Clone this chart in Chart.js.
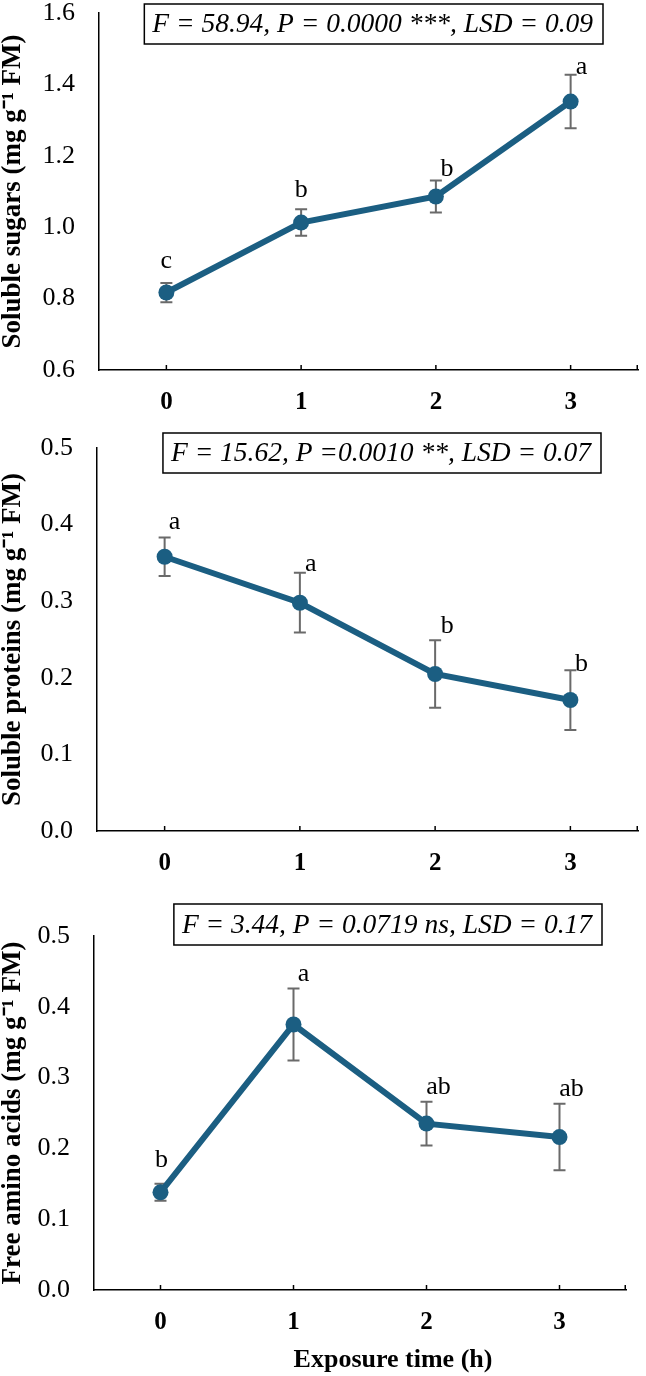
<!DOCTYPE html>
<html>
<head>
<meta charset="utf-8">
<script src="https://cdn.jsdelivr.net/npm/chart.js@4.4.1/dist/chart.umd.min.js"></script>
<style>
  body { margin: 0; background: #fff; }
  canvas { position: absolute; left: 0; }
</style>
</head>
<body>
<canvas id="sugars" width="646" height="430" style="top:0"></canvas>
<canvas id="proteins" width="646" height="450" style="top:430px"></canvas>
<canvas id="amino" width="646" height="496" style="top:880px"></canvas>
<script>
// exposure time categories
const hours = ['0', '1', '2', '3'];

// soluble sugars
const sugarMean = [0.817, 1.013, 1.086, 1.352];
const sugarErr = [0.027, 0.037, 0.045, 0.075];
const sugarLetters = ['c', 'b', 'b', 'a'];
const sugarTicks = [0.6, 0.8, 1.0, 1.2, 1.4, 1.6];
const sugarStat = 'F = 58.94, P = 0.0000 ***, LSD = 0.09';

// soluble proteins
const proteinMean = [0.358, 0.298, 0.205, 0.171];
const proteinErr = [0.025, 0.039, 0.044, 0.039];
const proteinLetters = ['a', 'a', 'b', 'b'];
const proteinTicks = [0.0, 0.1, 0.2, 0.3, 0.4, 0.5];
const proteinStat = 'F = 15.62, P =0.0010 **, LSD = 0.07';

// free amino acids
const aminoMean = [0.138, 0.375, 0.235, 0.216];
const aminoErr = [0.012, 0.051, 0.031, 0.047];
const aminoLetters = ['b', 'a', 'ab', 'ab'];
const aminoTicks = [0.0, 0.1, 0.2, 0.3, 0.4, 0.5];
const aminoStat = 'F = 3.44, P = 0.0719 ns, LSD = 0.17';

const xTitle = 'Exposure time (h)';

const BLUE = '#1b5e82';
const SERIF = "'Liberation Serif', 'Times New Roman', serif";

// layout + label placement for each panel (pixels in canvas coords)
const panels = {
  sugars: {
    mean: sugarMean, err: sugarErr, letters: sugarLetters, ticks: sugarTicks,
    stat: sugarStat, yTitle: 'Soluble sugars (mg g\u207B\u00B9 FM)',
    area: { left: 99, top: 13, right: 642, bottom: 370 },
    box: { right: 603, top: 4, h: 40 },
    shift: [[0, 15], [0, 12], [11, 4], [11, 1]]
  },
  proteins: {
    mean: proteinMean, err: proteinErr, letters: proteinLetters, ticks: proteinTicks,
    stat: proteinStat, yTitle: 'Soluble proteins (mg g\u207B\u00B9 FM)',
    area: { left: 97, top: 18, right: 643, bottom: 401 },
    box: { right: 601, top: 3, h: 40 },
    shift: [[10, 9], [11, 2], [12, 7], [11, -1]]
  },
  amino: {
    mean: aminoMean, err: aminoErr, letters: aminoLetters, ticks: aminoTicks,
    stat: aminoStat, yTitle: 'Free amino acids (mg g\u207B\u00B9 FM)',
    area: { left: 94, top: 56, right: 626, bottom: 410 },
    box: { right: 602, top: 24, h: 41 },
    shift: [[1, 17], [10, 7], [12, 8], [12, 8]],
    xTitle: xTitle, xTitlePos: { x: 393, y: 480 }
  }
};

const panelPlugin = {
  id: 'panel',
  beforeDatasetsDraw(chart) {
    const p = panels[chart.canvas.id];
    const { ctx, chartArea } = chart;
    const xs = chart.scales.x, ys = chart.scales.y;
    ctx.save();
    // error bars
    ctx.strokeStyle = '#6a6a6a';
    ctx.lineWidth = 2;
    p.mean.forEach((m, i) => {
      const px = xs.getPixelForValue(i);
      const top = ys.getPixelForValue(m + p.err[i]);
      const bot = ys.getPixelForValue(m - p.err[i]);
      ctx.beginPath();
      ctx.moveTo(px, top); ctx.lineTo(px, bot);
      ctx.moveTo(px - 6, top); ctx.lineTo(px + 6, top);
      ctx.moveTo(px - 6, bot); ctx.lineTo(px + 6, bot);
      ctx.stroke();
    });
    // small inward tick marks on the x axis
    ctx.strokeStyle = '#000';
    ctx.lineWidth = 1.5;
    const marks = hours.map((h, i) => xs.getPixelForValue(i)).concat(chartArea.right - 0.75);
    marks.forEach(mx => {
      ctx.beginPath();
      ctx.moveTo(mx, chartArea.bottom);
      ctx.lineTo(mx, chartArea.bottom - 5);
      ctx.stroke();
    });
    ctx.restore();
  },
  afterDatasetsDraw(chart) {
    const p = panels[chart.canvas.id];
    const { ctx } = chart;
    const xs = chart.scales.x, ys = chart.scales.y;
    ctx.save();
    // significance letters
    ctx.fillStyle = '#000';
    ctx.font = '26px ' + SERIF;
    ctx.textAlign = 'center';
    ctx.textBaseline = 'alphabetic';
    p.letters.forEach((t, i) => {
      const px = xs.getPixelForValue(i) + p.shift[i][0];
      const top = ys.getPixelForValue(p.mean[i] + p.err[i]);
      ctx.fillText(t, px, top - p.shift[i][1]);
    });
    // ANOVA box
    ctx.font = 'italic 27.5px ' + SERIF;
    const w = ctx.measureText(p.stat).width + 18;
    const bx = p.box.right - w;
    ctx.lineWidth = 1.5;
    ctx.strokeStyle = '#000';
    ctx.strokeRect(bx, p.box.top, w, p.box.h);
    ctx.textAlign = 'left';
    ctx.textBaseline = 'middle';
    ctx.fillText(p.stat, bx + 8, p.box.top + p.box.h / 2 + 1);
    // x axis title (bottom panel only)
    if (p.xTitle) {
      ctx.font = 'bold 26px ' + SERIF;
      ctx.textAlign = 'center';
      ctx.fillText(p.xTitle, p.xTitlePos.x, p.xTitlePos.y);
    }
    ctx.restore();
  }
};

function makeChart(id) {
  const p = panels[id];
  const canvas = document.getElementById(id);
  const H = canvas.height;
  new Chart(canvas, {
    type: 'line',
    data: {
      labels: hours,
      datasets: [{
        data: p.mean,
        borderColor: BLUE,
        backgroundColor: BLUE,
        borderWidth: 6,
        pointRadius: 8,
        pointBackgroundColor: BLUE,
        pointBorderWidth: 0,
        tension: 0
      }]
    },
    options: {
      responsive: false,
      animation: false,
      events: [],
      layout: { padding: { left: 0, top: p.area.top, right: canvas.width - p.area.right, bottom: 0 } },
      plugins: { legend: { display: false }, tooltip: { enabled: false } },
      scales: {
        x: {
          type: 'category',
          offset: true,
          grid: { display: true, drawOnChartArea: false, drawTicks: false },
          border: { display: true, color: '#000', width: 1.5 },
          ticks: { color: '#000', padding: 18, font: { family: SERIF, size: 25, weight: 'bold' } },
          afterFit: s => { s.height = H - p.area.bottom; }
        },
        y: {
          type: 'linear',
          min: p.ticks[0],
          max: p.ticks[p.ticks.length - 1],
          grid: { display: true, drawOnChartArea: false, drawTicks: false },
          border: { display: true, color: '#000', width: 1.5 },
          afterBuildTicks: s => { s.ticks = p.ticks.map(v => ({ value: v })); },
          ticks: {
            color: '#000', padding: 24,
            font: { family: SERIF, size: 26 },
            callback: v => Number(v).toFixed(1)
          },
          title: {
            display: true, text: p.yTitle, color: '#000',
            padding: { top: 0, bottom: 0 },
            font: { family: SERIF, size: 27, weight: 'bold', lineHeight: 1 }
          },
          afterFit: s => {
            s.width = p.area.left;
            s.paddingTop = 0;
            s.paddingBottom = 0;
          }
        }
      }
    },
    plugins: [panelPlugin]
  });
}

makeChart('sugars');
makeChart('proteins');
makeChart('amino');
</script>
</body>
</html>
